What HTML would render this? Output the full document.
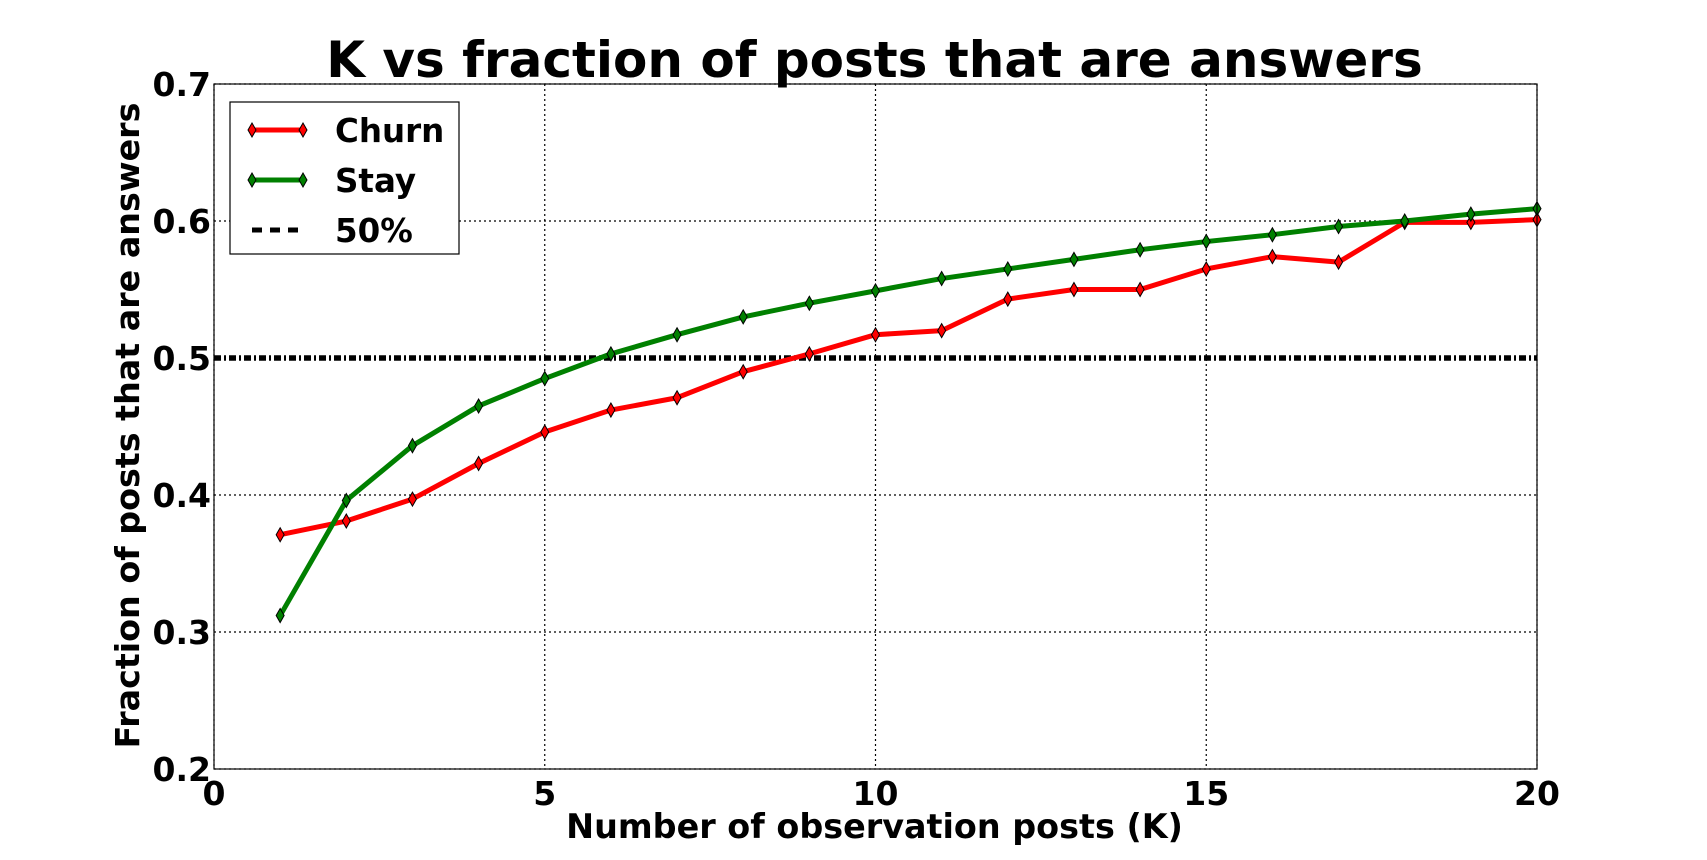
<!DOCTYPE html>
<html><head><meta charset="utf-8"><style>
body{margin:0;background:#fff;}
svg text{font-family:"DejaVu Sans","Liberation Sans",sans-serif;font-weight:bold;fill:#000;}
</style></head><body>
<svg id="chart" width="1707" height="855" xmlns="http://www.w3.org/2000/svg"></svg>
<script>
const kValues=[1,2,3,4,5,6,7,8,9,10,11,12,13,14,15,16,17,18,19,20];
const churnValues=[0.371,0.381,0.397,0.423,0.446,0.462,0.471,0.490,0.503,0.517,0.520,0.543,0.550,0.550,0.565,0.574,0.570,0.599,0.599,0.601];
const stayValues=[0.312,0.396,0.436,0.465,0.485,0.503,0.517,0.530,0.540,0.549,0.558,0.565,0.572,0.579,0.585,0.590,0.596,0.600,0.605,0.609];
const thresholdValue=0.5;
const xTicks=[0,5,10,15,20];
const yTicks=[0.2,0.3,0.4,0.5,0.6,0.7];
const yTickLabels=["0.2","0.3","0.4","0.5","0.6","0.7"];

const L=214,R=1537,T=84,B=769;
const xs=v=>L+(v-0)/(20-0)*(R-L);
const ys=v=>B-(v-0.2)/(0.7-0.2)*(B-T);
const svg=document.getElementById('chart');
const NS='http://www.w3.org/2000/svg';
function mk(tag,attrs,parent){const e=document.createElementNS(NS,tag);for(const k in attrs)e.setAttribute(k,attrs[k]);(parent||svg).appendChild(e);return e;}

xTicks.forEach(t=>{
  const g=mk('line',{x1:xs(t),x2:xs(t),y1:T,y2:B,stroke:'#000','stroke-width':1.2,'stroke-dasharray':'2,3'});
  
  
  const tx=mk('text',{x:xs(t),y:B+36,'text-anchor':'middle','font-size':33});
  tx.textContent=t;
  
  
});
yTicks.forEach((t,i)=>{
  const g=mk('line',{x1:L,x2:R,y1:ys(t),y2:ys(t),stroke:'#000','stroke-width':1.2,'stroke-dasharray':'2,3'});
  
  
  const tx=mk('text',{x:L-3,y:ys(t)+12,'text-anchor':'end','font-size':33});
  tx.textContent=yTickLabels[i];
  
  
});
const th=mk('line',{x1:L,x2:R,y1:ys(thresholdValue),y2:ys(thresholdValue),stroke:'#000','stroke-width':5.5,'stroke-dasharray':'7,3,2,3'});



function series(vals,color,name){
  const p=mk('polyline',{points:vals.map((v,i)=>xs(kValues[i])+','+ys(v)).join(' '),fill:'none',stroke:color,'stroke-width':5,'stroke-linejoin':'round'});
  
  
  vals.forEach((v,i)=>{
    const x=xs(kValues[i]),y=ys(v);
    const m=mk('polygon',{points:`${x},${y-7} ${x+4},${y} ${x},${y+7} ${x-4},${y}`,fill:color,stroke:'#000','stroke-width':1});
    
    
  });
}
series(churnValues,'#ff0000','churn');
series(stayValues,'#008000','stay');

const fr=mk('rect',{x:L,y:T,width:R-L,height:B-T,fill:'none',stroke:'#000','stroke-width':1.2});



const title=mk('text',{x:(L+R)/2-1,y:77,'text-anchor':'middle','font-size':50});
title.textContent='K vs fraction of posts that are answers';


const xl=mk('text',{x:(L+R)/2-1,y:838,'text-anchor':'middle','font-size':33.4});
xl.textContent='Number of observation posts (K)';


const yl=mk('text',{x:0,y:0,'text-anchor':'middle','font-size':33.3,transform:`translate(139,${(T+B)/2-1}) rotate(-90)`});
yl.textContent='Fraction of posts that are answers';



const lg=mk('g',{});


mk('rect',{x:230,y:102,width:229,height:152,fill:'#fff',stroke:'#000','stroke-width':1.2},lg);
const entries=[['Churn','#ff0000',130,'legend-entry-churn'],['Stay','#008000',180,'legend-entry-stay'],['50%','#000',230,'legend-entry-50']];
entries.forEach(([lab,c,y,nm])=>{
  const g=mk('g',{},lg);
  
  
  if(lab==='50%'){
    mk('line',{x1:252,x2:298,y1:y,y2:y,stroke:'#000','stroke-width':5,'stroke-dasharray':'10,8'},g);
  }else{
    mk('line',{x1:252,x2:303,y1:y,y2:y,stroke:c,'stroke-width':5},g);
    [252,303].forEach(x=>mk('polygon',{points:`${x},${y-7} ${x+4},${y} ${x},${y+7} ${x-4},${y}`,fill:c,stroke:'#000','stroke-width':1},g));
  }
  const t=mk('text',{x:335,y:y+12,'font-size':32.5},g);
  t.textContent=lab;
});
</script>
</body></html>
